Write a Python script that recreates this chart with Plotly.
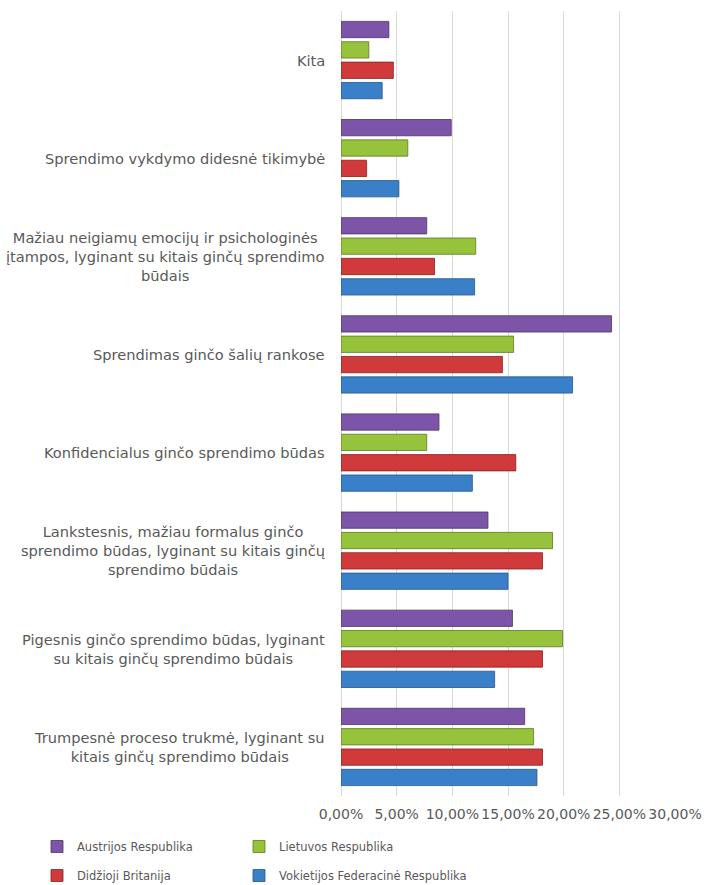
import plotly.graph_objects as go

categories = [
    "Kita",
    "Sprendimo vykdymo didesnė tikimybė",
    "Mažiau neigiamų emocijų ir psichologinės<br>įtampos, lyginant su kitais ginčų sprendimo<br>būdais",
    "Sprendimas ginčo šalių rankose",
    "Konfidencialus ginčo sprendimo būdas",
    "Lankstesnis, mažiau formalus ginčo<br>sprendimo būdas, lyginant su kitais ginčų<br>sprendimo būdais",
    "Pigesnis ginčo sprendimo būdas, lyginant<br>su kitais ginčų sprendimo būdais",
    "Trumpesnė proceso trukmė, lyginant su<br>kitais ginčų sprendimo būdais",
]

austrijos = [0.043, 0.099, 0.077, 0.243, 0.088, 0.132, 0.154, 0.165]
lietuvos = [0.025, 0.060, 0.121, 0.155, 0.077, 0.190, 0.199, 0.173]
britanija = [0.047, 0.023, 0.084, 0.145, 0.157, 0.181, 0.181, 0.181]
vokietijos = [0.037, 0.052, 0.120, 0.208, 0.118, 0.150, 0.138, 0.176]

series_names = [
    "Vokietijos Federacinė Respublika",
    "Didžioji Britanija",
    "Lietuvos Respublika",
    "Austrijos Respublika",
]
series_values = [vokietijos, britanija, lietuvos, austrijos]
colors = ["#3A80C8", "#D03A3A", "#96C23C", "#7D55A8"]
outline = ["#24558A", "#8A2020", "#5D7A22", "#4B3366"]
legend_ids = ["legend2", "legend", "legend2", "legend"]
legend_ranks = [4, 3, 2, 1]

x_ticks = [0, 0.05, 0.10, 0.15, 0.20, 0.25, 0.30]

TEXT = "#595959"
FONT = "DejaVu Sans"

fig = go.Figure()
for name, vals, c, oc, lg, rk in zip(series_names, series_values, colors, outline,
                                      legend_ids, legend_ranks):
    fig.add_trace(go.Bar(
        y=categories, x=vals, name=name, orientation="h",
        marker=dict(color=c, line=dict(color=oc, width=0.8)),
        legend=lg, legendgroup=name, legendrank=rk,
    ))

for cat in categories:
    fig.add_annotation(
        x=0, xref="paper", y=cat, yref="y", text=cat, showarrow=False,
        xanchor="right", align="center", xshift=-14,
        font=dict(family=FONT, size=14.6, color=TEXT),
    )

legend_common = dict(
    orientation="v", xref="container", yref="container",
    xanchor="left", yanchor="top", traceorder="grouped",
    tracegroupgap=10, font=dict(family=FONT, size=11.5, color=TEXT),
    bgcolor="rgba(0,0,0,0)", itemwidth=30,
)

fig.update_layout(
    width=705, height=885,
    margin=dict(l=341, r=30, t=11, b=89, autoexpand=False),
    paper_bgcolor="white", plot_bgcolor="white",
    separators=", ",
    barmode="group", bargap=0.17, bargroupgap=0.2,
    showlegend=True,
    legend=dict(x=37 / 705, y=1 - 832 / 885, **legend_common),
    legend2=dict(x=239 / 705, y=1 - 832 / 885, **legend_common),
    xaxis=dict(
        range=[0, 0.30], tickvals=x_ticks, tickformat=".2%", tickangle=0,
        showgrid=True, gridcolor="#D9D9D9", gridwidth=1,
        zeroline=True, zerolinecolor="#D9D9D9", zerolinewidth=1,
        showline=False, ticks="", ticklabelstandoff=8,
        tickfont=dict(family=FONT, size=14, color=TEXT),
    ),
    yaxis=dict(
        categoryorder="array", categoryarray=categories[::-1],
        showticklabels=False, showgrid=False, zeroline=False,
        showline=False, ticks="",
    ),
)

fig.write_html("out.html", config={"displayModeBar": False},
               post_script="document.body.style.margin='0px';")
